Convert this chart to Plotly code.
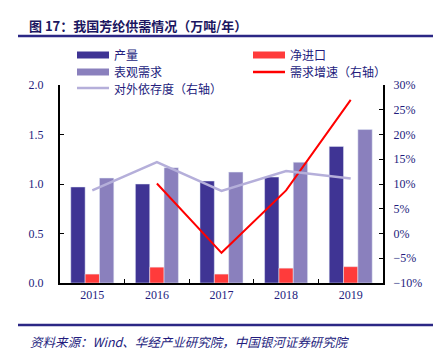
import plotly.graph_objects as go

years = ["2015", "2016", "2017", "2018", "2019"]
production = [0.97, 1.00, 1.03, 1.07, 1.38]
net_import = [0.09, 0.16, 0.09, 0.15, 0.165]
demand = [1.06, 1.165, 1.12, 1.22, 1.55]
growth = [None, 0.101, -0.039, 0.087, 0.27]
dependency = [0.087, 0.144, 0.086, 0.126, 0.111]

C_PROD = "#3F3494"
C_IMP = "#FF3B3B"
C_DEM = "#8A80BD"
C_DEP = "#B5AFDA"
C_GRO = "#FF0000"
NAVY = "#231C7D"
SERIF = "'Liberation Serif', 'Times New Roman', serif"

OFF = 8  # page body margin
W, H = 445 - OFF, 361 - OFF
ML, MT = 60 - OFF, 85 - OFF
MR = W - (383 - OFF)
MB = H - (283 - OFF)

fig = go.Figure()
fig.add_trace(go.Bar(x=years, y=production, name="产量", marker_color=C_PROD))
fig.add_trace(go.Bar(x=years, y=net_import, name="净进口", marker_color=C_IMP))
fig.add_trace(go.Bar(x=years, y=demand, name="表观需求", marker_color=C_DEM))
fig.add_trace(go.Scatter(x=years, y=growth, name="需求增速（右轴）", mode="lines",
                         line=dict(color=C_GRO, width=2), yaxis="y2"))
fig.add_trace(go.Scatter(x=years, y=dependency, name="对外依存度（右轴）", mode="lines",
                         line=dict(color=C_DEP, width=2.5), yaxis="y2"))

fig.update_layout(
    width=W, height=H,
    margin=dict(l=ML, r=MR, t=MT, b=MB),
    paper_bgcolor="white", plot_bgcolor="white",
    barmode="group", bargap=0.334, bargroupgap=0,
    font=dict(family=SERIF, color=NAVY, size=12),
    showlegend=False,
    xaxis=dict(type="category", showline=True, linecolor="black", linewidth=2,
               ticks="inside", tickson="boundaries", ticklen=4, tickcolor="black",
               tickfont=dict(family=SERIF, size=12, color=NAVY), showgrid=False),
    yaxis=dict(range=[0, 2], dtick=0.5, tickformat=".1f", showline=True, linecolor="black",
               linewidth=2, ticks="inside", ticklen=4, tickcolor="black", showgrid=False,
               zeroline=False, ticklabelstandoff=12,
               tickfont=dict(family=SERIF, size=12, color=NAVY)),
    yaxis2=dict(range=[-0.1, 0.3], dtick=0.05, tickformat=".0%", overlaying="y", side="right",
                showline=True, linecolor="black", linewidth=2, ticks="inside", ticklen=4,
                tickcolor="black", showgrid=False, zeroline=False, ticklabelstandoff=6,
                tickfont=dict(family=SERIF, size=12, color=NAVY)),
)

plot_h = H - MT - MB
plot_w = W - ML - MR
# helpers take screen pixel coordinates
def py(ys):
    return (H - MB - (ys - OFF)) / plot_h
def px(xs):
    return ((xs - OFF) - ML) / plot_w

# title and rules
fig.add_annotation(text="<b>图 17：我国芳纶供需情况（万吨/年）</b>", xref="paper", yref="paper",
                   x=px(27), y=py(25), xanchor="left", yanchor="middle", showarrow=False,
                   font=dict(family="Noto Sans CJK SC", size=13, color="#1B1660"))
for yy in (36, 325):
    fig.add_shape(type="line", xref="paper", yref="paper", x0=px(18), x1=px(433),
                  y0=py(yy), y1=py(yy), line=dict(color="#2B2785", width=2.5))
fig.add_annotation(text="<i>资料来源：Wind、华经产业研究院，中国银河证券研究院</i>", xref="paper",
                   yref="paper", x=px(28), y=py(341), xanchor="left", yanchor="middle",
                   showarrow=False, font=dict(family="Noto Sans CJK SC", size=12.5, color=NAVY))

# legend (manual)
legend_items = [("产量", C_PROD, "bar", 77, 55), ("净进口", C_IMP, "bar", 253, 55),
                ("表观需求", C_DEM, "bar", 77, 72), ("需求增速（右轴）", C_GRO, "line", 253, 72),
                ("对外依存度（右轴）", C_DEP, "line", 77, 88)]
for name, col, kind, x0, yc in legend_items:
    if kind == "bar":
        fig.add_shape(type="rect", xref="paper", yref="paper", x0=px(x0), x1=px(x0 + 32),
                      y0=py(yc + 3.5), y1=py(yc - 3.5), fillcolor=col, line=dict(width=0))
    else:
        fig.add_shape(type="line", xref="paper", yref="paper", x0=px(x0), x1=px(x0 + 32),
                      y0=py(yc), y1=py(yc), line=dict(color=col, width=2.5))
    fig.add_annotation(text=name, xref="paper", yref="paper", x=px(x0 + 35), y=py(yc),
                       xanchor="left", yanchor="middle", showarrow=False,
                       font=dict(family="Noto Sans CJK SC", size=12, color=NAVY))

fig.write_html("out.html")
